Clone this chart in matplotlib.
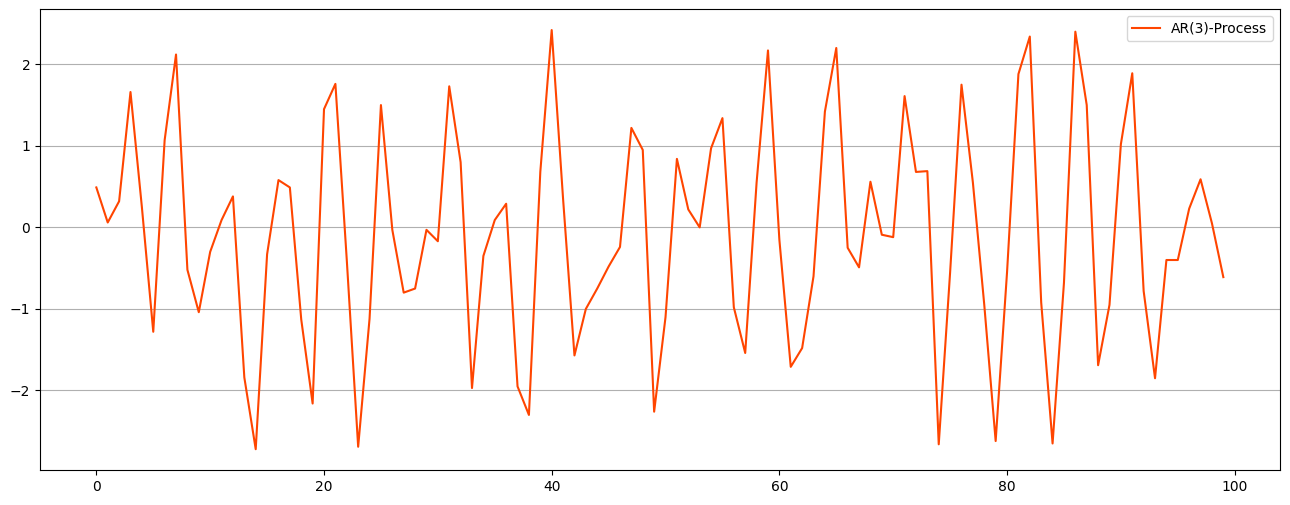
import numpy as np
import matplotlib
matplotlib.use('Agg')
import matplotlib.pyplot as plt

# AR(3) sample values
steps = np.arange(100)
values = [0.49, 0.06, 0.32, 1.66, 0.25, -1.28, 1.07, 2.12, -0.52, -1.04,
          -0.30, 0.09, 0.38, -1.84, -2.72, -0.33, 0.58, 0.49, -1.13, -2.16,
          1.45, 1.76, -0.40, -2.69, -1.12, 1.50, -0.03, -0.80, -0.75, -0.03,
          -0.17, 1.73, 0.80, -1.97, -0.35, 0.09, 0.29, -1.95, -2.30, 0.68,
          2.42, 0.35, -1.57, -1.00, -0.75, -0.48, -0.24, 1.22, 0.95, -2.26,
          -1.10, 0.84, 0.22, 0.00, 0.97, 1.34, -0.98, -1.54, 0.55, 2.17,
          -0.15, -1.71, -1.48, -0.60, 1.42, 2.20, -0.25, -0.49, 0.56, -0.09,
          -0.12, 1.61, 0.68, 0.69, -2.66, -0.55, 1.75, 0.55, -0.95, -2.62,
          -0.55, 1.88, 2.34, -0.92, -2.65, -0.68, 2.40, 1.50, -1.69, -0.95,
          1.02, 1.89, -0.78, -1.85, -0.40, -0.40, 0.23, 0.59, 0.05, -0.61]

fig = plt.figure(figsize=(12.9, 5.05), dpi=100)
ax = fig.add_axes([0.031, 0.069, 0.961, 0.913])

ax.plot(steps, values, color='orangered', label='AR(3)-Process')
ax.grid(axis='y', color='#b0b0b0')
ax.legend(loc='upper right')

fig.savefig('out.png', dpi=100)
